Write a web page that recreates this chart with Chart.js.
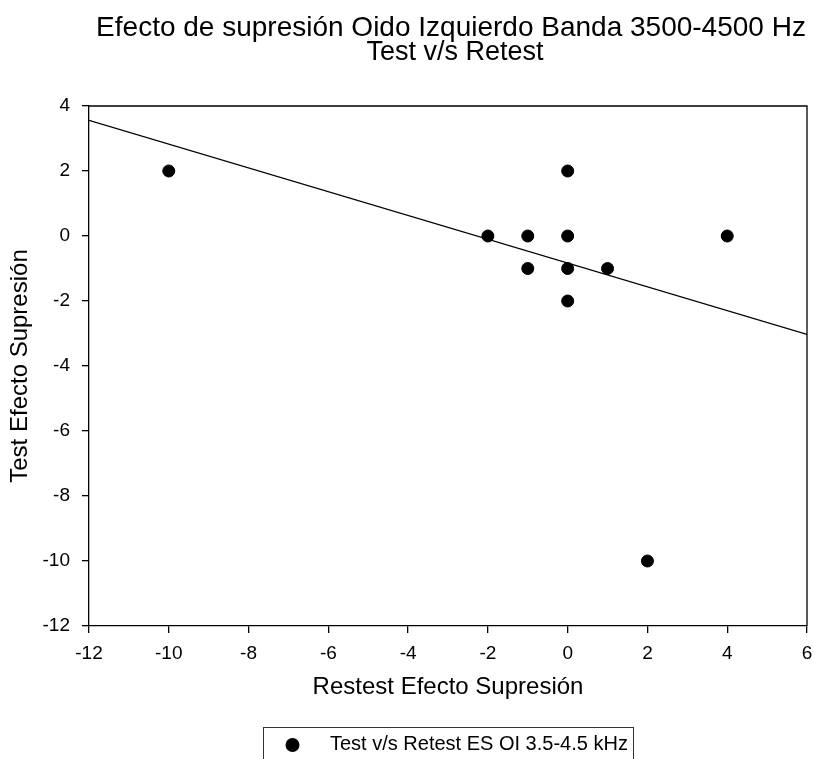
<!DOCTYPE html>
<html>
<head>
<meta charset="utf-8">
<script src="https://cdn.jsdelivr.net/npm/chart.js@4.4.1/dist/chart.umd.min.js"></script>
<style>
  html, body { margin: 0; padding: 0; background: #fff; }
  #wrap { width: 814px; height: 759px; }
</style>
</head>
<body>
<div id="wrap"><canvas id="c" width="814" height="759"></canvas></div>
<script>
// ---- data ----
const titleLines = ["Efecto de supresión Oido Izquierdo Banda 3500-4500 Hz", "Test v/s Retest"];
const xTitle = "Restest Efecto Supresión";
const yTitle = "Test Efecto Supresión";
const seriesLabel = "Test v/s Retest ES OI 3.5-4.5 kHz";
const retestX = [-10, -2, -1, -1, 0, 0, 0, 0, 1, 4, 2];
const testY   = [  2,  0,  0, -1, 2, 0, -1, -2, -1, 0, -10];
const fitX = [-12, 6];
const fitY = [3.56, -3.03];
const xRange = [-12, 6];
const yRange = [-12, 4];
const tickStep = 2;

const FONT = "'Liberation Sans', Arial, sans-serif";

const points = retestX.map((x, i) => ({ x: x, y: testY[i] }));
const fitLine = fitX.map((x, i) => ({ x: x, y: fitY[i] }));

const framePlugin = {
  id: 'frame',
  afterDatasetsDraw(chart) {
    const { ctx, chartArea: a } = chart;
    ctx.save();
    ctx.strokeStyle = '#000';
    ctx.lineWidth = 1.3;
    ctx.beginPath();
    ctx.moveTo(a.left, a.top);
    ctx.lineTo(a.right, a.top);
    ctx.lineTo(a.right, a.bottom);
    ctx.stroke();
    ctx.restore();
  },
  afterDraw(chart) {
    const { ctx } = chart;
    ctx.save();
    ctx.fillStyle = '#000';
    ctx.textAlign = 'center';
    ctx.textBaseline = 'alphabetic';
    ctx.font = "28px " + FONT;
    ctx.fillText(titleLines[0], 451, 36);
    ctx.font = "27px " + FONT;
    ctx.fillText(titleLines[1], 455, 60);
    // legend
    ctx.strokeStyle = '#333';
    ctx.lineWidth = 1;
    ctx.strokeRect(263.5, 727.5, 370, 40);
    ctx.beginPath();
    ctx.arc(292.5, 745, 7, 0, Math.PI * 2);
    ctx.fill();
    ctx.textAlign = 'left';
    ctx.font = "20px " + FONT;
    ctx.fillText(chart.data.datasets[0].label, 330, 750);
    ctx.restore();
  }
};

new Chart(document.getElementById('c'), {
  type: 'scatter',
  data: {
    datasets: [
      {
        label: seriesLabel,
        data: points,
        backgroundColor: '#000',
        borderColor: '#000',
        pointRadius: 6,
        pointBorderWidth: 1,
        pointHoverRadius: 6
      },
      {
        label: 'fit',
        data: fitLine,
        showLine: true,
        borderColor: '#000',
        borderWidth: 1.3,
        pointRadius: 0,
        fill: false
      }
    ]
  },
  options: {
    responsive: false,
    animation: false,
    devicePixelRatio: 1,
    layout: { padding: { top: 106, right: 7, bottom: 57, left: 0 } },
    plugins: {
      legend: { display: false },
      title: { display: false },
      tooltip: { enabled: false }
    },
    scales: {
      x: {
        type: 'linear',
        min: xRange[0], max: xRange[1],
        afterFit(s) { s.height = 76; s.paddingLeft = 0; s.paddingRight = 0; },
        ticks: { stepSize: tickStep, color: '#000', padding: 9, font: { family: FONT, size: 19 } },
        grid: { drawOnChartArea: false, drawTicks: true, tickLength: 7, color: '#000', lineWidth: 1.3 },
        border: { display: true, color: '#000', width: 1.3 },
        title: { display: true, text: xTitle, color: '#000', padding: { top: 0, bottom: 0 }, font: { family: FONT, size: 24 } }
      },
      y: {
        type: 'linear',
        min: yRange[0], max: yRange[1],
        afterFit(s) { s.width = 89; s.paddingTop = 0; s.paddingBottom = 0; },
        ticks: { stepSize: tickStep, color: '#000', padding: 12, font: { family: FONT, size: 19 } },
        grid: { drawOnChartArea: false, drawTicks: true, tickLength: 7, color: '#000', lineWidth: 1.3 },
        border: { display: true, color: '#000', width: 1.3 },
        title: { display: true, text: yTitle, color: '#000', padding: { top: 6, bottom: 0 }, font: { family: FONT, size: 24 } }
      }
    }
  },
  plugins: [framePlugin]
});
</script>
</body>
</html>
